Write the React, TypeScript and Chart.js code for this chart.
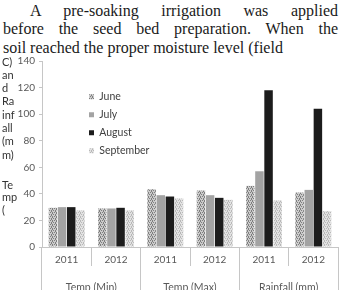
import { useEffect, useRef } from 'react';
import { Chart, registerables } from 'chart.js';

Chart.register(...registerables);

// Values per month, one entry per year column (Temp Min, Temp Max, Rainfall)
const years = ['2011', '2012', '2011', '2012', '2011', '2012'];
const groups = ['Temp (Min)', 'Temp (Max)', 'Rainfall (mm)'];
const june = [29.5, 29, 43.5, 42.5, 46, 41];
const july = [30, 29, 39, 39, 57, 43];
const august = [30, 29.5, 38, 37, 118, 104];
const september = [27.5, 27.5, 36.5, 35.5, 35, 27];
const months = ['June', 'July', 'August', 'September'];

const yMin = 0;
const yMax = 140;
const yStep = 20;

const paragraph = [
  'A pre-soaking irrigation was applied',
  'before the seed bed preparation. When the',
  'soil reached the proper moisture level (field',
];
const yTitleTop = ['C)', 'an', 'd', 'Ra', 'inf', 'all', '(m', 'm)'];
const yTitleBottom = ['Te', 'mp', '('];

const axisGray = '#c6c6c6';
const labelGray = '#595959';

function stipple(ctx: CanvasRenderingContext2D, base: string, dot: string) {
  const tile = document.createElement('canvas');
  tile.width = 4;
  tile.height = 4;
  const g = tile.getContext('2d')!;
  g.fillStyle = base;
  g.fillRect(0, 0, 4, 4);
  g.fillStyle = dot;
  g.fillRect(0, 0, 1, 1);
  g.fillRect(2, 0, 1, 1);
  g.fillRect(1, 2, 1, 1);
  g.fillRect(3, 2, 1, 1);
  g.fillRect(0, 1, 1, 1);
  g.fillRect(3, 3, 1, 1);
  return ctx.createPattern(tile, 'repeat') as CanvasPattern;
}

// Moves the chart-area legend to its spot inside the plot
const legendSpot = {
  id: 'legendSpot',
  afterLayout(chart: any) {
    const lg = chart.legend;
    if (!lg) return;
    const w = lg.width;
    const h = lg.height;
    lg.left = chart.chartArea.left + 39.5;
    lg.top = chart.chartArea.top + 23;
    lg.right = lg.left + w;
    lg.bottom = lg.top + h;
  },
};

export default function App() {
  const ref = useRef<HTMLCanvasElement>(null);

  useEffect(() => {
    const canvas = ref.current!;
    const ctx = canvas.getContext('2d')!;
    const fills = [
      stipple(ctx, '#cbcbcb', '#7e7e7e'),
      '#a3a3a3',
      '#1c1c1c',
      stipple(ctx, '#e2e2e2', '#b8b8b8'),
    ];
    const series = [june, july, august, september];

    const chart = new Chart(canvas, {
      type: 'bar',
      data: {
        labels: years,
        datasets: series.map((data, i) => ({
          label: months[i],
          data,
          backgroundColor: fills[i],
          borderWidth: 0,
          barPercentage: 0.93,
          categoryPercentage: 0.74,
        })),
      },
      options: {
        responsive: false,
        animation: false,
        devicePixelRatio: 1,
        layout: { padding: { top: 61, right: 2, left: 0, bottom: 0 } },
        plugins: {
          tooltip: { enabled: false },
          legend: {
            position: 'chartArea',
            align: 'start',
            labels: {
              boxWidth: 5,
              boxHeight: 5,
              padding: 7.5,
              color: '#404040',
              font: { family: 'Lato', size: 10.5 },
            },
          },
        },
        scales: {
          x: {
            type: 'category',
            position: 'bottom',
            offset: true,
            weight: 0,
            grid: {
              offset: true,
              drawOnChartArea: false,
              tickLength: 19,
              color: axisGray,
            },
            border: { display: true, color: axisGray },
            ticks: {
              padding: -12,
              color: labelGray,
              font: { family: 'Lato', size: 10 },
              maxRotation: 0,
              autoSkip: false,
            },
            afterFit: (s: any) => {
              s.height = 19;
            },
          },
          x2: {
            type: 'category',
            position: 'bottom',
            labels: groups,
            offset: true,
            weight: 1,
            grid: {
              offset: true,
              drawOnChartArea: false,
              tickLength: 34,
              color: axisGray,
            },
            border: { display: false },
            ticks: {
              padding: -19,
              color: labelGray,
              font: { family: 'Lato', size: 10.5 },
              maxRotation: 0,
              autoSkip: false,
            },
            afterFit: (s: any) => {
              s.height = 34;
            },
          },
          y: {
            min: yMin,
            max: yMax,
            ticks: {
              stepSize: yStep,
              padding: 4,
              color: labelGray,
              font: { family: 'Lato', size: 10 },
            },
            grid: { drawOnChartArea: false, tickLength: 3, color: axisGray },
            border: { color: axisGray },
            afterFit: (s: any) => {
              s.width = 42;
            },
          },
        },
      },
      plugins: [legendSpot],
    } as any);

    return () => chart.destroy();
  }, []);

  const lineBase: React.CSSProperties = {
    position: 'absolute',
    font: '16px "Liberation Serif", serif',
    lineHeight: '18px',
    color: '#1a1a1a',
    whiteSpace: 'normal',
  };
  const titleStyle: React.CSSProperties = {
    position: 'absolute',
    left: 2,
    font: '11px Lato, sans-serif',
    color: '#333',
  };

  return (
    <div
      style={{
        position: 'absolute',
        left: 0,
        top: 0,
        width: 340,
        height: 290,
        overflow: 'hidden',
        background: '#fff',
      }}
    >
      <div style={{ ...lineBase, left: 30, top: 1.5, width: 308, textAlign: 'justify', textAlignLast: 'justify' }}>
        {paragraph[0]}
      </div>
      <div style={{ ...lineBase, left: 3, top: 19.5, width: 335, textAlign: 'justify', textAlignLast: 'justify' }}>
        {paragraph[1]}
      </div>
      <div style={{ ...lineBase, left: 3, top: 38.5, width: 335, textAlign: 'left' }}>{paragraph[2]}</div>

      <canvas
        ref={ref}
        width={340}
        height={300}
        style={{ position: 'absolute', left: 0, top: 0, width: 340, height: 300 }}
      />

      <div style={{ ...titleStyle, top: 54.5, lineHeight: '13.3px' }}>
        {yTitleTop.map((t, i) => (
          <div key={i}>{t}</div>
        ))}
      </div>
      <div style={{ ...titleStyle, top: 178.5, lineHeight: '12.5px' }}>
        {yTitleBottom.map((t, i) => (
          <div key={i}>{t}</div>
        ))}
      </div>
    </div>
  );
}
